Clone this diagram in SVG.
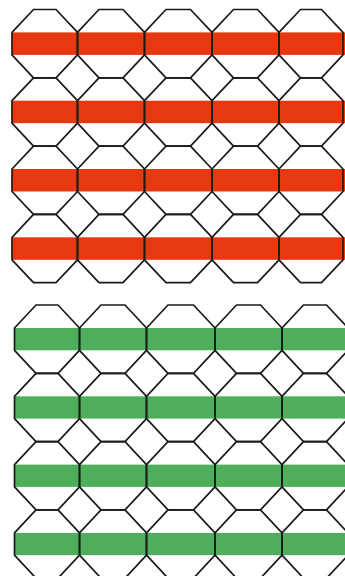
<svg xmlns="http://www.w3.org/2000/svg" xmlns:xlink="http://www.w3.org/1999/xlink" width="345" height="576" viewBox="0 0 345 576">
<style>
.oct{fill:none;stroke:#1a1a1a;stroke-width:1.7;stroke-linejoin:miter}
.red{fill:#e6390f}
.green{fill:#4fae5c}
</style>
<defs>
<g id="redRow">
<polygon class="oct" points="33.5,9.5 56,9.5 77.5,32.4 77.5,54.9 56,77.8 33.5,77.8 12,54.9 12,32.4"/>
<polygon class="oct" points="99,9.5 123,9.5 144.5,32.4 144.5,54.9 123,77.8 99,77.8 77.5,54.9 77.5,32.4"/>
<polygon class="oct" points="166,9.5 190.5,9.5 212,32.4 212,54.9 190.5,77.8 166,77.8 144.5,54.9 144.5,32.4"/>
<polygon class="oct" points="233.5,9.5 257.5,9.5 279,32.4 279,54.9 257.5,77.8 233.5,77.8 212,54.9 212,32.4"/>
<polygon class="oct" points="300.5,9.5 321.5,9.5 343,32.4 343,54.9 321.5,77.8 300.5,77.8 279,54.9 279,32.4"/>
</g>
<g id="greenRow">
<polygon class="oct" points="36,305 58,305 79.5,328 79.5,350.3 58,373.3 36,373.3 14.5,350.3 14.5,328"/>
<polygon class="oct" points="101,305 125,305 146.5,328 146.5,350.3 125,373.3 101,373.3 79.5,350.3 79.5,328"/>
<polygon class="oct" points="168,305 193.5,305 215,328 215,350.3 193.5,373.3 168,373.3 146.5,350.3 146.5,328"/>
<polygon class="oct" points="236.5,305 260.5,305 282,328 282,350.3 260.5,373.3 236.5,373.3 215,350.3 215,328"/>
<polygon class="oct" points="303.5,305 326.5,305 348,328 348,350.3 326.5,373.3 303.5,373.3 282,350.3 282,328"/>
</g>
</defs>
<rect width="345" height="576" fill="#ffffff"/>
<g id="red-panel">
<rect class="red" x="12" y="32.4" width="333" height="22.5"/>
<rect class="red" x="12" y="100.7" width="333" height="22.5"/>
<rect class="red" x="12" y="169" width="333" height="22.5"/>
<rect class="red" x="12" y="237.3" width="333" height="22.5"/>
<use xlink:href="#redRow"/>
<use xlink:href="#redRow" transform="translate(0,68.3)"/>
<use xlink:href="#redRow" transform="translate(0,136.6)"/>
<use xlink:href="#redRow" transform="translate(0,204.9)"/>
</g>
<g id="green-panel">
<rect class="green" x="14.5" y="328" width="331" height="22.3"/>
<rect class="green" x="14.5" y="396.3" width="331" height="22.3"/>
<rect class="green" x="14.5" y="464.6" width="331" height="22.3"/>
<rect class="green" x="14.5" y="532.9" width="331" height="22.3"/>
<use xlink:href="#greenRow"/>
<use xlink:href="#greenRow" transform="translate(0,68.3)"/>
<use xlink:href="#greenRow" transform="translate(0,136.6)"/>
<use xlink:href="#greenRow" transform="translate(0,204.9)"/>
</g>
</svg>
